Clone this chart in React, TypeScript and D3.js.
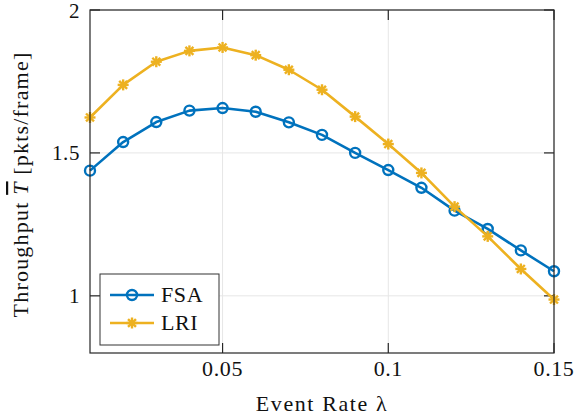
import React from "react";
import * as d3 from "d3";

const xValues = [0.01, 0.02, 0.03, 0.04, 0.05, 0.06, 0.07, 0.08, 0.09, 0.1, 0.11, 0.12, 0.13, 0.14, 0.15];
const fsaValues = [1.438, 1.538, 1.608, 1.648, 1.657, 1.644, 1.607, 1.563, 1.5, 1.44, 1.378, 1.298, 1.234, 1.159, 1.086];
const lriValues = [1.624, 1.738, 1.819, 1.857, 1.869, 1.842, 1.791, 1.721, 1.627, 1.531, 1.43, 1.312, 1.208, 1.094, 0.987];
const xTicks = [0.05, 0.1, 0.15];
const xTickLabels = ["0.05", "0.1", "0.15"];
const yTicks = [1, 1.5, 2];
const yTickLabels = ["1", "1.5", "2"];
const seriesNames = ["FSA", "LRI"];

const W = 574;
const H = 419;
const left = 90;
const right = 554;
const top = 10;
const bottom = 353;
const FSA_COLOR = "#0072BD";
const LRI_COLOR = "#EDB120";
const FONT = "Liberation Serif, DejaVu Serif, serif";

function Star({ x, y, r, color }: { x: number; y: number; r: number; color: string }) {
  const d = r * 0.72;
  return (
    <g stroke={color} strokeWidth={2.4} strokeLinecap="butt">
      <line x1={x - r} y1={y} x2={x + r} y2={y} />
      <line x1={x} y1={y - r} x2={x} y2={y + r} />
      <line x1={x - d} y1={y - d} x2={x + d} y2={y + d} />
      <line x1={x - d} y1={y + d} x2={x + d} y2={y - d} />
    </g>
  );
}

export default function App() {
  const x = d3.scaleLinear().domain([0.01, 0.15]).range([left, right]);
  const y = d3.scaleLinear().domain([0.8, 2]).range([bottom, top]);
  const line = d3
    .line<number>()
    .x((_, i) => x(xValues[i]))
    .y((v) => y(v));

  const tickLen = 10;
  const axisColor = "#262626";
  const textStyle = { fontFamily: FONT };

  return (
    <svg
      width={W}
      height={H}
      style={{ position: "absolute", left: 0, top: 0, background: "#fff", fontFamily: FONT }}
    >
      <rect x={0} y={0} width={W} height={H} fill="#fff" />
      {xTicks.map((t) => (
        <line key={"gx" + t} x1={x(t)} x2={x(t)} y1={top} y2={bottom} stroke="#e6e6e6" strokeWidth={1} />
      ))}
      {yTicks.map((t) => (
        <line key={"gy" + t} x1={left} x2={right} y1={y(t)} y2={y(t)} stroke="#e6e6e6" strokeWidth={1} />
      ))}
      {xTicks.map((t) => (
        <g key={"tx" + t} stroke={axisColor} strokeWidth={1.2}>
          <line x1={x(t)} x2={x(t)} y1={bottom} y2={bottom - tickLen} />
          <line x1={x(t)} x2={x(t)} y1={top} y2={top + tickLen} />
        </g>
      ))}
      {yTicks.map((t) => (
        <g key={"ty" + t} stroke={axisColor} strokeWidth={1.2}>
          <line x1={left} x2={left + tickLen} y1={y(t)} y2={y(t)} />
          <line x1={right} x2={right - tickLen} y1={y(t)} y2={y(t)} />
        </g>
      ))}
      <path d={line(fsaValues) || ""} fill="none" stroke={FSA_COLOR} strokeWidth={2.6} strokeLinejoin="round" />
      {fsaValues.map((v, i) => (
        <circle key={"c" + i} cx={x(xValues[i])} cy={y(v)} r={5} fill="none" stroke={FSA_COLOR} strokeWidth={2.4} />
      ))}
      <path d={line(lriValues) || ""} fill="none" stroke={LRI_COLOR} strokeWidth={2.6} strokeLinejoin="round" />
      {lriValues.map((v, i) => (
        <Star key={"s" + i} x={x(xValues[i])} y={y(v)} r={5.5} color={LRI_COLOR} />
      ))}
      <rect x={left} y={top} width={right - left} height={bottom - top} fill="none" stroke={axisColor} strokeWidth={1.2} />
      {xTicks.map((t, i) => (
        <text key={"lx" + t} x={x(t)} y={376} textAnchor="middle" fontSize={22} fill="#111" letterSpacing={0.6} style={textStyle}>
          {xTickLabels[i]}
        </text>
      ))}
      {yTicks.map((t, i) => (
        <text key={"ly" + t} x={80} y={y(t) + 7.5} textAnchor="end" fontSize={21} fill="#111" letterSpacing={0.6} style={textStyle}>
          {yTickLabels[i]}
        </text>
      ))}
      <text x={(left + right) / 2} y={411} textAnchor="middle" fontSize={22} fill="#111" letterSpacing={1.6} style={textStyle}>
        Event Rate λ
      </text>
      <text
        transform={`translate(28, ${(top + bottom) / 2 + 3}) rotate(-90)`}
        textAnchor="middle"
        fontSize={22}
        fill="#111"
        letterSpacing={1.2}
        style={textStyle}
      >
        Throughput <tspan fontStyle="italic" textDecoration="overline">T</tspan> [pkts/frame]
      </text>
      <rect x={100} y={274} width={119} height={71} fill="#fff" stroke="#333" strokeWidth={1} />
      <line x1={110} x2={154} y1={295} y2={295} stroke={FSA_COLOR} strokeWidth={2.6} />
      <circle cx={132} cy={295} r={5} fill="none" stroke={FSA_COLOR} strokeWidth={2.4} />
      <text x={161} y={302} fontSize={22} fill="#111" letterSpacing={0.6} style={textStyle}>{seriesNames[0]}</text>
      <line x1={110} x2={154} y1={323} y2={323} stroke={LRI_COLOR} strokeWidth={2.6} />
      <Star x={132} y={323} r={5.5} color={LRI_COLOR} />
      <text x={161} y={330} fontSize={22} fill="#111" letterSpacing={0.6} style={textStyle}>{seriesNames[1]}</text>
    </svg>
  );
}
